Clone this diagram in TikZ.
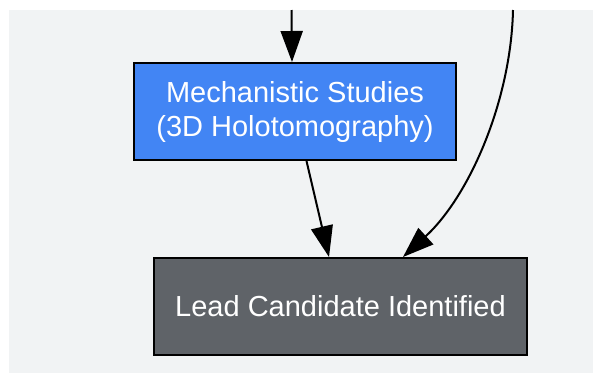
\documentclass[tikz,border=0pt]{standalone}
\usepackage{fontspec}
\setmainfont{Liberation Sans}
\usetikzlibrary{arrows.meta}
\definecolor{bgc}{HTML}{F1F3F4}
\definecolor{gblue}{HTML}{4285F4}
\definecolor{ggrey}{HTML}{5F6368}
\tikzset{
  boxnode/.style={draw=black, line width=2pt, inner sep=0pt, text=white, align=center,
    font=\fontsize{29}{34}\selectfont},
  conn/.style={line width=2pt, -{Triangle[length=31pt,width=22pt]}},
}
\begin{document}
\begin{tikzpicture}[x=1pt,y=-1pt]
\useasboundingbox (0,0) rectangle (593,373);
\fill[bgc] (8.5,10) rectangle (593,373);
\node[boxnode, fill=gblue, minimum width=322pt, minimum height=97pt] (mech) at (295,111.5)
  {Mechanistic Studies\\(3D Holotomography)};
\node[boxnode, fill=ggrey, minimum width=373pt, minimum height=97pt] (lead) at (340.5,306.5)
  {Lead Candidate Identified};
\coordinate (inA) at (291.5,10);
\coordinate (inB) at (513,10);
\coordinate (bend) at (426,236);
\draw[conn] (inA) -- ([xshift=-3pt]mech.north);
\draw[conn] ([xshift=11.5pt]mech.south) -- ([xshift=-11.5pt]lead.north);
\draw[conn] (inB) .. controls (511,100) and (470,195) .. (bend) -- ([xshift=62.5pt]lead.north);
\end{tikzpicture}
\end{document}
